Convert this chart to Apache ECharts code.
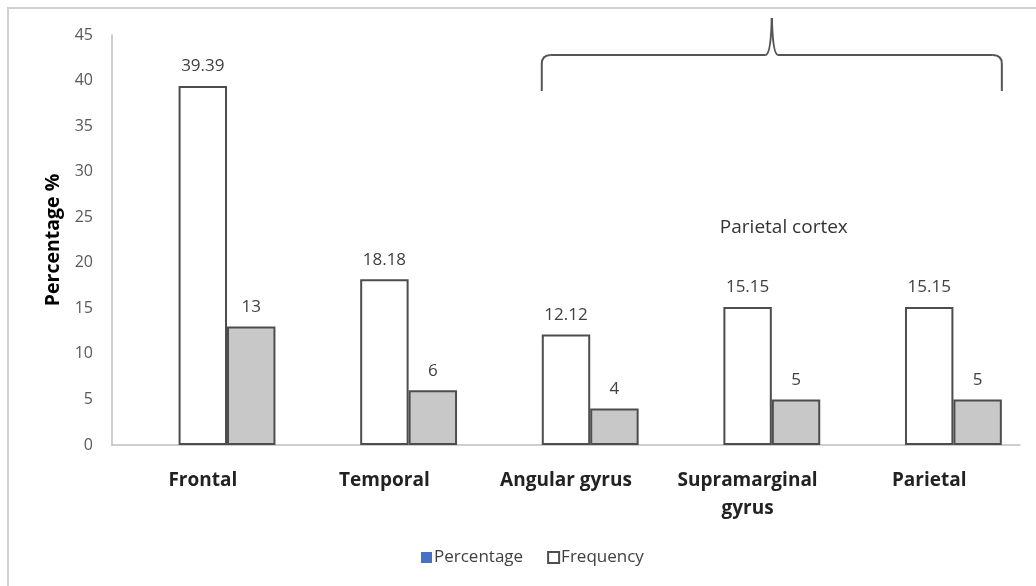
<!DOCTYPE html>
<html><head><meta charset="utf-8">
<script src="https://cdn.jsdelivr.net/npm/echarts@6/dist/echarts.min.js"></script>
<style>html,body{margin:0;padding:0;background:#fff}#c{width:1036px;height:586px}</style>
</head><body><div id="c"></div>
<script>
var categories = ['Frontal', 'Temporal', 'Angular gyrus', 'Supramarginal\ngyrus', 'Parietal'];
var percentageValues = [null, null, null, null, null];
var frequencyValues = [39.39, 18.18, 12.12, 15.15, 15.15];
var countValues = [13, 6, 4, 5, 5];
var yTicks = [0, 5, 10, 15, 20, 25, 30, 35, 40, 45];
var groupLabel = 'Parietal cortex';

var FONT = '"Open Sans", "Liberation Sans", sans-serif';
var chart = echarts.init(document.getElementById('c'), null, {renderer: 'canvas'});
var gridLeft = 112, gridRight = 16, gridTop = 35, gridBottom = 141;
var option = {
  backgroundColor: '#ffffff',
  animation: false,
  textStyle: {fontFamily: FONT},
  grid: {left: gridLeft, right: gridRight, top: gridTop, bottom: gridBottom, containLabel: false},
  legend: {
    data: ['Percentage', 'Frequency'],
    left: 416, top: 544,
    icon: 'rect', itemWidth: 11, itemHeight: 11, itemGap: 24,
    textStyle: {fontFamily: FONT, fontSize: 17, color: '#404040', padding: [0,0,0,-3]}
  },
  xAxis: {
    type: 'category',
    data: categories,
    axisLine: {lineStyle: {color: '#bfbfbf', width: 1.5}},
    axisTick: {show: false},
    axisLabel: {fontFamily: FONT, fontSize: 19, fontWeight: 'bold', color: '#222222', margin: 22, lineHeight: 28, interval: 0}
  },
  yAxis: {
    type: 'value',
    min: yTicks[0], max: yTicks[yTicks.length - 1], interval: yTicks[1] - yTicks[0],
    name: 'Percentage %', nameLocation: 'middle', nameGap: 47, nameRotate: 90,
    nameTextStyle: {fontFamily: FONT, fontSize: 19.5, fontWeight: 'bold', color: '#000'},
    axisLine: {show: true, lineStyle: {color: '#bfbfbf', width: 1.5}},
    axisTick: {show: false},
    splitLine: {show: false},
    axisLabel: {fontFamily: FONT, fontSize: 16, color: '#595959', margin: 19}
  },
  series: [
    {name: 'Percentage', type: 'bar', data: percentageValues, barGap: '0%', barCategoryGap: '20%',
     itemStyle: {color: '#4472c4'}},
    {name: 'Frequency', type: 'bar', data: frequencyValues, barGap: '0%', barCategoryGap: '20%',
     itemStyle: {color: '#ffffff', borderColor: '#4d4d4d', borderWidth: 2},
     label: {show: true, position: 'top', distance: 11, fontFamily: FONT, fontSize: 17, color: '#404040'}},
    {name: 'Count', type: 'bar', data: countValues, barGap: '0%', barCategoryGap: '20%',
     itemStyle: {color: '#c8c8c8', borderColor: '#4d4d4d', borderWidth: 2},
     label: {show: true, position: 'top', distance: 11, fontFamily: FONT, fontSize: 17, color: '#404040'}}
  ]
};
chart.setOption(option);

// brace annotation over the parietal group, positioned from the axis scale
var c2 = chart.convertToPixel({xAxisIndex: 0}, 2);
var c4 = chart.convertToPixel({xAxisIndex: 0}, 4);
var band = c4 - chart.convertToPixel({xAxisIndex: 0}, 3);
var bw = band * 0.8 / 3;
var xl = c2 - 0.5 * bw, xr = c4 + 1.5 * bw, xc = (xl + xr) / 2;
var yLine = 55, yEnd = 91, yPeak = 18, r = 9;
var braceStyle = {fill: null, stroke: '#555555', lineWidth: 2};
function seg(x1, y1, x2, y2) {
  return {type: 'line', silent: true, shape: {x1: x1, y1: y1, x2: x2, y2: y2}, style: braceStyle};
}
function curve(x1, y1, cx, cy, x2, y2) {
  return {type: 'bezierCurve', silent: true, shape: {x1: x1, y1: y1, cpx1: cx, cpy1: cy, x2: x2, y2: y2}, style: braceStyle};
}
var graphics = [
  {type: 'rect', silent: true, z: -1, shape: {x: 8, y: 8, width: 1200, height: 800},
   style: {fill: null, stroke: '#d0d0d0', lineWidth: 2}},
  seg(xl, yEnd, xl, yLine + r),
  curve(xl, yLine + r, xl, yLine, xl + r, yLine),
  seg(xl + r, yLine, xc - 6, yLine),
  curve(xc - 6, yLine, xc - 1, yLine - 1, xc, yPeak),
  curve(xc, yPeak, xc + 1, yLine - 1, xc + 6, yLine),
  seg(xc + 6, yLine, xr - r, yLine),
  curve(xr - r, yLine, xr, yLine, xr, yLine + r),
  seg(xr, yLine + r, xr, yEnd),
  {type: 'text', silent: true, x: xc + 12, y: 228,
   style: {text: groupLabel, fontFamily: FONT, fontSize: 19, fill: '#333333', textAlign: 'center', textVerticalAlign: 'middle'}}
];
chart.setOption({graphic: graphics});
</script>
</body></html>
